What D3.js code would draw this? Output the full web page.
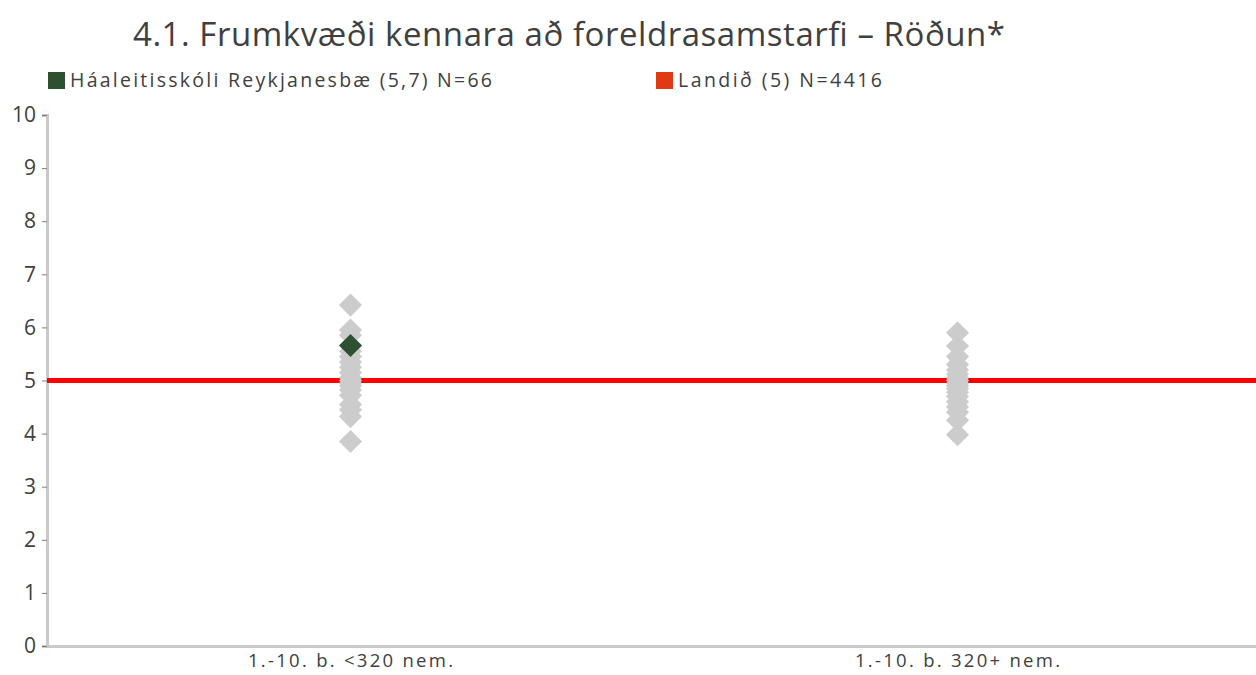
<!DOCTYPE html>
<html>
<head>
<meta charset="utf-8">
<script src="https://cdn.jsdelivr.net/npm/d3@7"></script>
<style>
  html, body { margin: 0; padding: 0; background: #fff; }
  svg { display: block; font-family: "Open Sans", Lato, sans-serif; }
</style>
</head>
<body>
<svg id="chart" width="1256" height="675"></svg>
<script>
// Group labels on the x axis
const categories = ["1.-10. b. <320 nem.", "1.-10. b. 320+ nem."];

// Scores of all other schools in each group (grey diamonds)
const smallSchools = [6.42, 5.95, 5.85, 5.55, 5.45, 5.35, 5.25, 5.15, 5.05, 5.0, 4.95, 4.9, 4.82, 4.72, 4.55, 4.45, 4.32, 3.85];
const largeSchools = [5.9, 5.65, 5.45, 5.3, 5.2, 5.12, 5.05, 5.0, 4.95, 4.9, 4.85, 4.78, 4.7, 4.6, 4.5, 4.4, 4.25, 3.98];

// The highlighted school and the national average
const schoolName = "Háaleitisskóli Reykjanesbæ (5,7) N=66";
const schoolCategory = "1.-10. b. <320 nem.";
const schoolValue = 5.66;
const nationalName = "Landið (5) N=4416";
const nationalValue = 5;

const yTicks = [0, 1, 2, 3, 4, 5, 6, 7, 8, 9, 10];
const title = "4.1. Frumkvæði kennara að foreldrasamstarfi – Röðun*";

const svg = d3.select("#chart");
const plotLeft = 47, plotRight = 1261, plotTop = 115, plotBottom = 646;
const ink = "#404040";
const font = "'Open Sans', Lato, sans-serif";

const x = d3.scaleBand().domain(categories).range([plotLeft, plotRight]);
const y = d3.scaleLinear().domain([0, 10]).range([plotBottom, plotTop]);

// Title
svg.append("text")
  .attr("x", 133).attr("y", 46)
  .attr("font-size", 33).attr("fill", ink)
  .attr("textLength", 872).attr("lengthAdjust", "spacing")
  .text(title);

// Legend
const legend = [
  { name: schoolName, color: "#2d5030", x: 48, w: 422 },
  { name: nationalName, color: "#e03a12", x: 656, w: 204 }
];
legend.forEach(d => {
  svg.append("rect").attr("x", d.x).attr("y", 72).attr("width", 17).attr("height", 17).attr("fill", d.color);
  svg.append("text").attr("x", d.x + 22).attr("y", 87)
    .attr("font-size", 19.5).attr("fill", ink)
    .attr("textLength", d.w).attr("lengthAdjust", "spacing")
    .text(d.name);
});

// Y axis
const yAxis = svg.append("g")
  .attr("transform", `translate(${plotLeft},0)`)
  .call(d3.axisLeft(y).tickValues(yTicks).tickSize(5).tickPadding(6).tickFormat(d3.format("d")));
yAxis.select(".domain").attr("stroke", "#c9c9c9").attr("stroke-width", 3);
yAxis.selectAll(".tick line").attr("stroke", "#7f7f7f").attr("stroke-width", 1);
yAxis.selectAll(".tick text").attr("font-size", 21).attr("fill", ink)
  .attr("font-family", font);

// X axis
const xAxis = svg.append("g")
  .attr("transform", `translate(0,${plotBottom})`)
  .call(d3.axisBottom(x).tickSize(0).tickPadding(8).tickSizeOuter(0));
xAxis.select(".domain").attr("stroke", "#c9c9c9").attr("stroke-width", 3);
xAxis.selectAll(".tick text").attr("font-size", 18.5).attr("fill", ink)
  .attr("font-family", font)
  .attr("textLength", 205).attr("lengthAdjust", "spacing");

// National average line
svg.append("line")
  .attr("x1", plotLeft).attr("x2", 1256)
  .attr("y1", y(nationalValue)).attr("y2", y(nationalValue))
  .attr("stroke", "#ff0000").attr("stroke-width", 5);

// Diamonds
const diamond = d3.symbol().type(d3.symbolDiamond2).size(340);
const others = [
  ...smallSchools.map(v => ({ c: categories[0], v })),
  ...largeSchools.map(v => ({ c: categories[1], v }))
];
svg.append("g").selectAll("path").data(others).join("path")
  .attr("d", diamond)
  .attr("transform", d => `translate(${x(d.c) + x.bandwidth() / 2},${y(d.v)})`)
  .attr("fill", "#cccccc");

svg.append("path")
  .attr("d", diamond)
  .attr("transform", `translate(${x(schoolCategory) + x.bandwidth() / 2},${y(schoolValue)})`)
  .attr("fill", "#2d5030");
</script>
</body>
</html>
